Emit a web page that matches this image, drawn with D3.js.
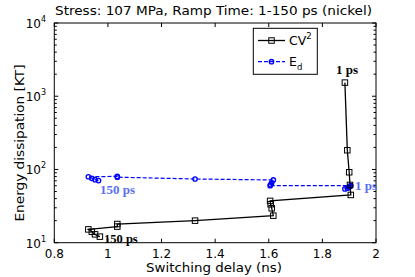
<!DOCTYPE html>
<html><head><meta charset="utf-8">
<script src="https://cdn.jsdelivr.net/npm/d3@7"></script>
<style>body{margin:0;background:#fff}svg{display:block}</style>
</head><body>
<script>
// Data (ramp time 150 ps -> 1 ps)
const delay = [0.970, 0.952, 0.940, 0.927, 1.035, 1.035, 1.325, 1.617, 1.611, 1.607, 1.605, 1.906, 1.903, 1.900, 1.893, 1.884];
const cv2   = [12.1, 13.0, 14.1, 15.2, 16.6, 18.0, 20.0, 23.4, 29.5, 33.5, 37.2, 44.9, 61.4, 91.6, 183, 1535];
const delayEd = [0.965, 0.952, 0.940, 0.927, 1.035, 1.035, 1.325, 1.617, 1.611, 1.607, 1.605, 1.906, 1.903, 1.900, 1.893, 1.884];
const ed    = [70.5, 72.5, 75.8, 79.5, 80.5, 78.5, 74.1, 71.9, 66, 62, 60, 60, 59, 57.5, 55.5, 54.2];
const xTicks = [0.8, 1, 1.2, 1.4, 1.6, 1.8, 2];
const xTickLabels = ["0.8", "1", "1.2", "1.4", "1.6", "1.8", "2"];
const yDecades = [10, 100, 1000, 10000];
const yExp = ["1", "2", "3", "4"];

const W = 415, H = 277;
const L = 54.3, R = 376, T = 23, B = 242.7;
const svg = d3.select("body").append("svg").attr("width", W).attr("height", H)
  .style("font-family", "'DejaVu Sans', Verdana, sans-serif");

const x = d3.scaleLinear().domain([0.8, 2]).range([L, R]);
const y = d3.scaleLog().domain([10, 10000]).range([B, T]);

// Frame
svg.append("rect").attr("x", L).attr("y", T).attr("width", R - L).attr("height", B - T)
  .attr("fill", "none").attr("stroke", "#000").attr("stroke-width", 1);

// X ticks (inward, top & bottom)
const tl = 4;
xTicks.forEach(v => {
  const px = x(v);
  svg.append("line").attr("x1", px).attr("x2", px).attr("y1", B).attr("y2", B - tl).attr("stroke", "#000");
  svg.append("line").attr("x1", px).attr("x2", px).attr("y1", T).attr("y2", T + tl).attr("stroke", "#000");
});
svg.append("g").selectAll("text").data(xTicks).join("text")
  .attr("x", d => x(d)).attr("y", 258).attr("text-anchor", "middle")
  .attr("font-size", 12).text((d, i) => xTickLabels[i]);

// Y ticks: majors and minors
const minors = [];
for (let d = 10; d < 10000; d *= 10) for (let k = 2; k <= 9; k++) minors.push(d * k);
minors.forEach(v => {
  const py = y(v);
  svg.append("line").attr("x1", L).attr("x2", L + 2.5).attr("y1", py).attr("y2", py).attr("stroke", "#000");
  svg.append("line").attr("x1", R).attr("x2", R - 2.5).attr("y1", py).attr("y2", py).attr("stroke", "#000");
});
yDecades.forEach(v => {
  const py = y(v);
  svg.append("line").attr("x1", L).attr("x2", L + tl).attr("y1", py).attr("y2", py).attr("stroke", "#000");
  svg.append("line").attr("x1", R).attr("x2", R - tl).attr("y1", py).attr("y2", py).attr("stroke", "#000");
});
const yl = svg.append("g").selectAll("text").data(yDecades).join("text")
  .attr("x", 46).attr("y", d => y(d) + 5).attr("text-anchor", "end").attr("font-size", 12);
yl.append("tspan").text("10");
yl.append("tspan").attr("dy", -6).attr("font-size", 8).text((d, i) => yExp[i]);

// Axis labels & title
svg.append("text").attr("x", 146).attr("y", 272).attr("font-size", 12.5)
  .attr("textLength", 136).attr("lengthAdjust", "spacingAndGlyphs")
  .text("Switching delay (ns)");
svg.append("text").attr("transform", "translate(24,143) rotate(-90)").attr("x", -78.5)
  .attr("font-size", 12.5).attr("textLength", 157).attr("lengthAdjust", "spacingAndGlyphs")
  .text("Energy dissipation [KT]");
svg.append("text").attr("x", 55).attr("y", 15).attr("font-size", 12.5)
  .attr("textLength", 317).attr("lengthAdjust", "spacingAndGlyphs")
  .text("Stress: 107 MPa, Ramp Time: 1-150 ps (nickel)");

// Series
const cvData = delay.map((d, i) => [d, cv2[i]]);
const edData = delayEd.map((d, i) => [d, ed[i]]);
const line = d3.line().x(d => x(d[0])).y(d => y(d[1]));

svg.append("path").attr("d", line(edData)).attr("fill", "none").attr("stroke", "#0000ff")
  .attr("stroke-width", 1.2).attr("stroke-dasharray", "4,2");
svg.append("g").selectAll("circle").data(edData).join("circle")
  .attr("cx", d => x(d[0])).attr("cy", d => y(d[1])).attr("r", 2.2)
  .attr("fill", "none").attr("stroke", "#0000ff").attr("stroke-width", 1.3);

svg.append("path").attr("d", line(cvData)).attr("fill", "none").attr("stroke", "#000").attr("stroke-width", 1.3);
const s = 5.5;
svg.append("g").selectAll("rect").data(cvData).join("rect")
  .attr("x", d => x(d[0]) - s / 2).attr("y", d => y(d[1]) - s / 2).attr("width", s).attr("height", s)
  .attr("fill", "none").attr("stroke", "#000").attr("stroke-width", 1);

// Annotations
const serif = "'Liberation Serif', 'Times New Roman', serif";
svg.append("text").attr("x", 336).attr("y", 74).attr("font-family", serif)
  .attr("font-weight", "bold").attr("font-size", 13).attr("fill", "#000").text("1 ps");
svg.append("text").attr("x", 355).attr("y", 190).attr("font-family", serif)
  .attr("font-weight", "bold").attr("font-size", 13).attr("fill", "#5a6ef2").text("1 ps");
svg.append("text").attr("x", 100).attr("y", 194).attr("font-family", serif)
  .attr("font-weight", "bold").attr("font-size", 13).attr("fill", "#5a6ef2").text("150 ps");
svg.append("text").attr("x", 104).attr("y", 243).attr("font-family", serif)
  .attr("font-weight", "bold").attr("font-size", 12.5).attr("fill", "#000").text("150 ps");

// Legend
const lg = svg.append("g");
lg.append("rect").attr("x", 253.3).attr("y", 28.3).attr("width", 64).attr("height", 46)
  .attr("fill", "#fff").attr("stroke", "#000").attr("stroke-width", 1);
lg.append("line").attr("x1", 258).attr("x2", 285).attr("y1", 40.5).attr("y2", 40.5).attr("stroke", "#000").attr("stroke-width", 1.3);
lg.append("rect").attr("x", 271.5 - s / 2).attr("y", 40.5 - s / 2).attr("width", s).attr("height", s)
  .attr("fill", "none").attr("stroke", "#000");
const t1 = lg.append("text").attr("x", 289).attr("y", 45).attr("font-size", 12.5);
t1.append("tspan").text("CV");
t1.append("tspan").attr("dy", -6).attr("font-size", 8.5).text("2");
lg.append("line").attr("x1", 258).attr("x2", 285).attr("y1", 61.7).attr("y2", 61.7).attr("stroke", "#0000ff")
  .attr("stroke-width", 1.2).attr("stroke-dasharray", "4,2");
lg.append("circle").attr("cx", 271.5).attr("cy", 61.7).attr("r", 2.2).attr("fill", "none").attr("stroke", "#0000ff").attr("stroke-width", 1.3);
const t2 = lg.append("text").attr("x", 289).attr("y", 66).attr("font-size", 12.5);
t2.append("tspan").text("E");
t2.append("tspan").attr("dy", 4).attr("font-size", 8.5).text("d");
</script>
</body></html>
